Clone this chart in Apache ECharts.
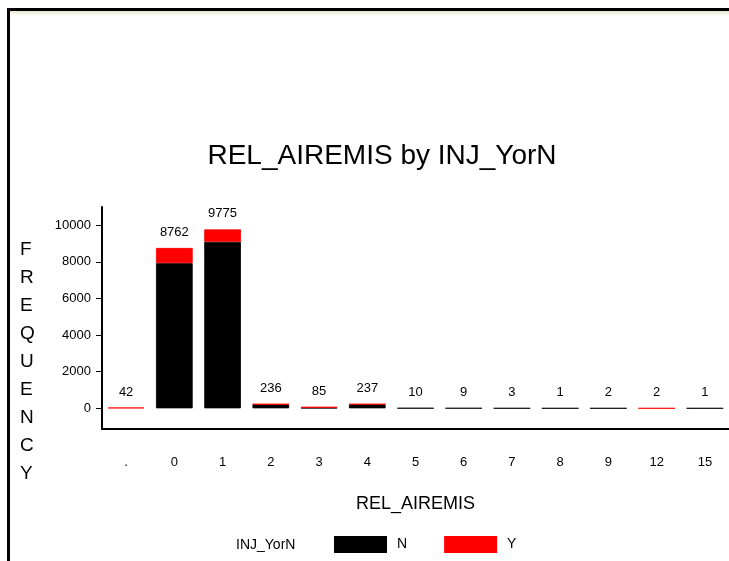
<!DOCTYPE html>
<html>
<head>
<meta charset="utf-8">
<script src="https://cdn.jsdelivr.net/npm/echarts@6/dist/echarts.min.js"></script>
<style>
  html, body { margin: 0; padding: 0; background: #fff; }
  #chart { position: absolute; left: 0; top: 0; width: 729px; height: 561px; }
  #frame {
    position: absolute; left: 7px; top: 8px; right: 0; bottom: 0;
    border-left: 3px solid #000; border-top: 3px solid #000;
    pointer-events: none;
  }
  #shade {
    position: absolute; left: 10px; top: 11px; right: 0; height: 4px;
    background: linear-gradient(#e8e4d0, #fbfaf5);
  }
</style>
</head>
<body>
<div id="chart"></div>
<div id="frame"></div>
<div id="shade"></div>
<script>
// categories of REL_AIREMIS
var categories = ['.', '0', '1', '2', '3', '4', '5', '6', '7', '8', '9', '12', '15'];
// INJ_YorN = N
var nValues = [null, 7930, 9100, 215, 30, 215, 10, 9, 3, 1, 2, null, 1];
// INJ_YorN = Y
var yValues = [42, 832, 675, 21, 55, 22, null, null, null, null, null, 2, null];
var yTicks = [0, 2000, 4000, 6000, 8000, 10000];

var totals = categories.map(function (c, i) {
  return (nValues[i] || 0) + (yValues[i] || 0);
});

var myChart = echarts.init(document.getElementById('chart'), null, { renderer: 'canvas' });

var font = '"Liberation Sans", Arial, sans-serif';

var option = {
  backgroundColor: '#fff',
  animation: false,
  title: [
    {
      text: 'REL_AIREMIS by INJ_YorN',
      left: 377,
      top: 137,
      textAlign: 'center',
      textStyle: { fontFamily: font, fontSize: 28, fontWeight: 'normal', color: '#000' }
    },
    {
      text: 'F\nR\nE\nQ\nU\nE\nN\nC\nY',
      left: 15,
      top: 231,
      textStyle: { fontFamily: font, fontSize: 19, fontWeight: 'normal', color: '#000', lineHeight: 28 }
    },
    {
      text: 'INJ_YorN',
      left: 231,
      top: 533,
      textStyle: { fontFamily: font, fontSize: 14, fontWeight: 'normal', color: '#000' }
    }
  ],
  legend: {
    data: ['N', 'Y'],
    left: 329,
    top: 531,
    itemWidth: 51,
    itemHeight: 15,
    itemGap: 37,
    icon: 'rect',
    textStyle: { fontFamily: font, fontSize: 14, color: '#000', padding: [0, 0, 0, 6] }
  },
  grid: {
    left: 102,
    right: -7,
    top: 207,
    bottom: 132,
    containLabel: false
  },
  xAxis: {
    type: 'category',
    data: categories,
    name: 'REL_AIREMIS',
    nameLocation: 'middle',
    nameGap: 66,
    nameTextStyle: { fontFamily: font, fontSize: 18, color: '#000' },
    axisLine: { onZero: false, lineStyle: { color: '#000', width: 2 } },
    axisTick: { show: false },
    axisLabel: { fontFamily: font, fontSize: 13, color: '#000', margin: 27 }
  },
  yAxis: {
    type: 'value',
    min: -1130,
    max: 11000,
    splitLine: { show: false },
    axisLine: { show: true, lineStyle: { color: '#000', width: 2 } },
    axisTick: { show: true, length: 6, customValues: yTicks, lineStyle: { color: '#000', width: 1 } },
    axisLabel: {
      fontFamily: font, fontSize: 13, color: '#000', margin: 11, customValues: yTicks,
      formatter: function (v) { return String(v); }
    }
  },
  series: [
    {
      name: 'N',
      type: 'bar',
      stack: 'total',
      barCategoryGap: '24%',
      data: nValues,
      itemStyle: { color: '#000', borderColor: '#000', borderWidth: 0.8 }
    },
    {
      name: 'Y',
      type: 'bar',
      stack: 'total',
      data: yValues,
      itemStyle: { color: '#ff0000', borderColor: '#ff0000', borderWidth: 0.8 }
    },
    {
      name: 'Total',
      type: 'bar',
      stack: 'total',
      data: totals.map(function () { return 0; }),
      itemStyle: { color: 'rgba(0,0,0,0)' },
      silent: true,
      label: {
        show: true,
        position: 'top',
        distance: 9,
        fontFamily: font,
        fontSize: 13,
        color: '#000',
        formatter: function (p) { return totals[p.dataIndex]; }
      }
    }
  ]
};

myChart.setOption(option);
</script>
</body>
</html>
